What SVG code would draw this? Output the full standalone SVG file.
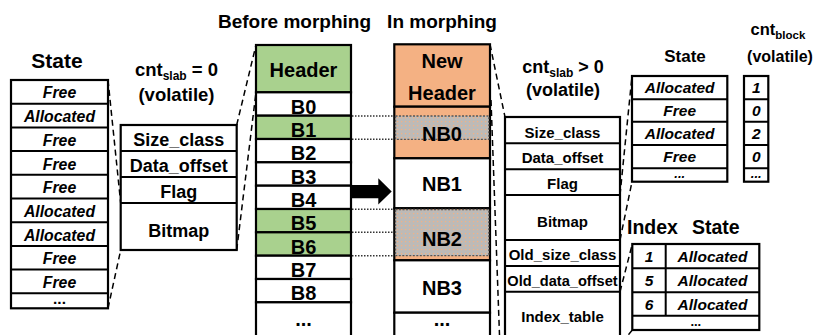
<svg xmlns="http://www.w3.org/2000/svg" width="816" height="335" viewBox="0 0 816 335">
  <defs>
    <style>
      .cell { fill: #ffffff; stroke: #000000; stroke-width: 2.2; }
      .green { fill: #A9D18E; stroke: #000000; stroke-width: 2.2; }
      .orange { fill: #F4B183; stroke: #000000; stroke-width: 2.2; }
      .sep { stroke: #000000; stroke-width: 2; fill: none; }
      .moved { fill: url(#speckle); stroke: #555555; stroke-width: 1.3; stroke-dasharray: 2 1.5; }
      .t { font-family: "Liberation Sans", Arial, sans-serif; font-weight: bold; text-anchor: middle; fill: #000000; }
      .start { text-anchor: start; }
      .it { font-style: italic; }
      .dash { stroke: #000000; stroke-width: 1.5; stroke-dasharray: 6 4; fill: none; }
      .dot { stroke: #333333; stroke-width: 1.5; stroke-dasharray: 1.5 1.5; fill: none; }
    </style>
    <pattern id="speckle" width="4" height="4" patternUnits="userSpaceOnUse">
      <rect width="4" height="4" fill="#BDBAB7"/>
      <rect x="1" y="1" width="1.2" height="1.2" fill="#F4B183"/>
    </pattern>
  </defs>

  <!-- headings -->
  <g id="titles">
    <text class="t" x="57" y="68" font-size="21">State</text>
    <text class="t" x="294.5" y="28" font-size="19">Before morphing</text>
    <text class="t" x="442" y="28" font-size="19">In morphing</text>
    <text class="t" x="176.5" y="75.5" font-size="18.5">cnt<tspan font-size="12" dy="4">slab</tspan><tspan dy="-4"> = 0</tspan></text>
    <text class="t" x="176.5" y="100.5" font-size="18.5">(volatile)</text>
    <text class="t" x="563" y="73" font-size="18">cnt<tspan font-size="12" dy="4">slab</tspan><tspan dy="-4"> &gt; 0</tspan></text>
    <text class="t" x="563" y="95.5" font-size="18">(volatile)</text>
    <text class="t" x="685" y="61.7" font-size="17">State</text>
    <text class="t" x="778" y="35" font-size="16.5">cnt<tspan font-size="11.5" dy="4">block</tspan></text>
    <text class="t" x="780" y="61.7" font-size="16">(volatile)</text>
    <text class="t start" x="627" y="234" font-size="19.5">Index <tspan x="692">State</tspan></text>
  </g>

  <!-- connectors: zoom-out guides, block mapping and morph arrow -->
  <g id="connectors">
    <line class="dash" x1="108" y1="80" x2="120.7" y2="203"/>
    <line class="dash" x1="108" y1="308.3" x2="120.7" y2="250"/>
    <line class="dash" x1="236.7" y1="125" x2="256" y2="45"/>
    <line class="dash" x1="236.7" y1="250" x2="256" y2="92.3"/>
    <line class="dash" x1="490" y1="44.3" x2="505" y2="117"/>
    <line class="dash" x1="491" y1="100" x2="499.5" y2="335"/>
    <line class="dash" x1="620" y1="195" x2="632" y2="76"/>
    <line class="dash" x1="620" y1="240" x2="632" y2="181.7"/>
    <line class="dash" x1="620" y1="291.7" x2="632.3" y2="244"/>
    <line class="dash" x1="632.3" y1="330" x2="620" y2="345"/>
    <line class="dot" x1="352" y1="116" x2="394" y2="116"/>
    <line class="dot" x1="352" y1="139.3" x2="394" y2="139.3"/>
    <line class="dot" x1="352" y1="209.3" x2="394" y2="209.3"/>
    <line class="dot" x1="352" y1="232.3" x2="394" y2="232.3"/>
    <line class="dot" x1="352" y1="255.7" x2="394" y2="255.7"/>
    <polygon points="351,185 378.3,185 378.3,178.3 391.7,191.5 378.3,204.5 378.3,198.3 351,198.3" fill="#000000"/>
  </g>

  <!-- per-block allocation state (old slab) -->
  <g id="state-old">
    <rect class="cell" x="11" y="80" width="97" height="228.3"/>
    <path class="sep" d="M11 103.7H108M11 127.4H108M11 151.1H108M11 174.8H108M11 198.5H108M11 222.2H108M11 245.9H108M11 269.6H108M11 293.3H108"/>
    <g class="t it" font-size="15.8">
      <text x="59.5" y="98.4">Free</text>
      <text x="59.5" y="122.1">Allocated</text>
      <text x="59.5" y="145.8">Free</text>
      <text x="59.5" y="169.5">Free</text>
      <text x="59.5" y="193.2">Free</text>
      <text x="59.5" y="216.9">Allocated</text>
      <text x="59.5" y="240.6">Allocated</text>
      <text x="59.5" y="264.3">Free</text>
      <text x="59.5" y="288">Free</text>
    </g>
    <text class="t" x="59.5" y="304" font-size="15.5">...</text>
  </g>

  <!-- old slab header fields -->
  <g id="header-old">
    <rect class="cell" x="120.7" y="125" width="116" height="125"/>
    <path class="sep" d="M120.7 151H236.7M120.7 177H236.7M120.7 203H236.7"/>
    <g class="t" font-size="18">
      <text x="178.7" y="146">Size_class</text>
      <text x="178.7" y="172">Data_offset</text>
      <text x="178.7" y="198.3">Flag</text>
      <text x="178.7" y="236.5">Bitmap</text>
    </g>
  </g>

  <!-- slab before morphing -->
  <g id="slab-before">
    <rect class="green" x="256" y="45" width="95" height="47.3"/>
    <rect class="cell" x="256" y="92.3" width="95" height="23.4"/>
    <rect class="green" x="256" y="115.7" width="95" height="23.3"/>
    <rect class="cell" x="256" y="139" width="95" height="23.3"/>
    <rect class="cell" x="256" y="162.3" width="95" height="23.4"/>
    <rect class="cell" x="256" y="185.7" width="95" height="23.3"/>
    <rect class="green" x="256" y="209" width="95" height="23.3"/>
    <rect class="green" x="256" y="232.3" width="95" height="23.4"/>
    <rect class="cell" x="256" y="255.7" width="95" height="23.3"/>
    <rect class="cell" x="256" y="279" width="95" height="23.3"/>
    <rect class="cell" x="256" y="302.3" width="95" height="40"/>
    <g class="t" font-size="20">
      <text x="303.5" y="76.5">Header</text>
      <text x="303.5" y="113.5">B0</text>
      <text x="303.5" y="137">B1</text>
      <text x="303.5" y="160.3">B2</text>
      <text x="303.5" y="183.7">B3</text>
      <text x="303.5" y="207">B4</text>
      <text x="303.5" y="230.3">B5</text>
      <text x="303.5" y="253.7">B6</text>
      <text x="303.5" y="277">B7</text>
      <text x="303.5" y="300.3">B8</text>
      <text x="303.5" y="326">...</text>
    </g>
  </g>

  <!-- slab during morphing -->
  <g id="slab-morphing">
    <rect class="orange" x="394.3" y="44.3" width="95.7" height="62.4"/>
    <rect class="orange" x="394.3" y="106.7" width="95.7" height="51.6"/>
    <rect class="moved" x="395.5" y="116" width="93.3" height="23.3"/>
    <rect class="cell" x="394.3" y="158.3" width="95.7" height="50"/>
    <rect class="orange" x="394.3" y="208.3" width="95.7" height="52"/>
    <rect class="moved" x="395.5" y="209.5" width="93.3" height="46.2"/>
    <rect class="cell" x="394.3" y="260.3" width="95.7" height="52.4"/>
    <rect class="cell" x="394.3" y="312.7" width="95.7" height="30"/>
    <g class="t" font-size="20">
      <text x="442" y="68">New</text>
      <text x="442" y="100">Header</text>
      <text x="442" y="141">NB0</text>
      <text x="442" y="190.5">NB1</text>
      <text x="442" y="246">NB2</text>
      <text x="442" y="295">NB3</text>
      <text x="442" y="326">...</text>
    </g>
  </g>

  <!-- new slab header fields -->
  <g id="header-new">
    <rect class="cell" x="505" y="117" width="115" height="230"/>
    <path class="sep" d="M505 143.3H620M505 169.3H620M505 195H620M505 240H620M505 266H620M505 291.7H620"/>
    <g class="t" font-size="15">
      <text x="562.5" y="138">Size_class</text>
      <text x="562.5" y="163.3">Data_offset</text>
      <text x="562.5" y="189">Flag</text>
      <text x="562.5" y="226.5">Bitmap</text>
      <text x="562.5" y="260">Old_size_class</text>
      <text x="562.5" y="286" font-size="14.6">Old_data_offset</text>
      <text x="562.5" y="321.5">Index_table</text>
    </g>
  </g>

  <!-- per-block allocation state (new slab) -->
  <g id="state-new">
    <rect class="cell" x="632" y="76" width="95.3" height="105.7"/>
    <path class="sep" d="M632 99.3H727.3M632 121.7H727.3M632 145H727.3M632 168.3H727.3"/>
    <g class="t it" font-size="15.5">
      <text x="679.7" y="93.3">Allocated</text>
      <text x="679.7" y="115.5">Free</text>
      <text x="679.7" y="138.5">Allocated</text>
      <text x="679.7" y="161.8">Free</text>
      <text x="679.7" y="177.5" font-size="13">...</text>
    </g>
  </g>

  <!-- per-block reference counters -->
  <g id="cnt-block">
    <rect class="cell" x="744" y="76" width="24.3" height="105.7"/>
    <path class="sep" d="M744 99.3H768.3M744 121.7H768.3M744 145H768.3M744 168.3H768.3"/>
    <g class="t it" font-size="15.5">
      <text x="756.2" y="93.3">1</text>
      <text x="756.2" y="115.5">0</text>
      <text x="756.2" y="138.5">2</text>
      <text x="756.2" y="161.8">0</text>
      <text x="756.2" y="177.5" font-size="13">...</text>
    </g>
  </g>

  <!-- index table: old block index to state -->
  <g id="index-state">
    <rect class="cell" x="632.3" y="244" width="127" height="86"/>
    <path class="sep" d="M632.3 268.3H759.3M632.3 292.3H759.3M632.3 315.7H759.3M665.7 244V315.7"/>
    <g class="t it" font-size="15.5">
      <text x="649" y="261.7">1</text>
      <text x="712.5" y="261.7">Allocated</text>
      <text x="649" y="286">5</text>
      <text x="712.5" y="286">Allocated</text>
      <text x="649" y="310">6</text>
      <text x="712.5" y="310">Allocated</text>
    </g>
    <text class="t" x="695.8" y="326" font-size="13">...</text>
  </g>
</svg>
